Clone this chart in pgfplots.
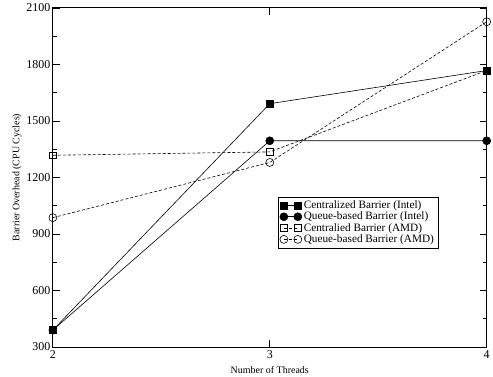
\documentclass[border=0pt]{standalone}
\usepackage{pgfplots}
\pgfplotsset{compat=1.18}
\usepackage{fontspec}
\setmainfont{Liberation Serif}
\begin{document}
\begin{tikzpicture}
\begin{axis}[
  scale only axis,
  width=435pt, height=340pt,
  xmin=2, xmax=4, ymin=300, ymax=2100,
  xtick={2,3,4},
  ytick={300,600,900,1200,1500,1800,2100},
  minor y tick num=1,
  tick align=inside,
  major tick length=7pt,
  minor tick length=4pt,
  axis line style={line width=1pt},
  every tick/.style={line width=0.8pt, black},
  /pgf/number format/assume math mode=true,
  /pgf/number format/1000 sep={},
  tick label style={font=\fontsize{12}{14}\selectfont},
  xticklabel style={yshift=0pt},
  yticklabel style={xshift=1pt},
  label style={font=\fontsize{10}{12}\selectfont},
  xlabel={Number of Threads},
  ylabel={Barrier Overhead (CPU Cycles)},
  xlabel style={yshift=-1pt},
  ylabel style={yshift=-2pt},
  legend style={at={(0.518,0.444)}, anchor=north west, draw=black, line width=0.6pt,
    font=\fontsize{11.3}{12.5}\selectfont, row sep=-2pt, inner sep=2pt},
  legend cell align=left,
  legend image code/.code={\draw[#1] plot coordinates {(0pt,0pt) (14pt,0pt)};},
]
\addplot[black, line width=0.6pt, mark=square*, mark size=3.5pt, mark options={solid}]
  coordinates {(2,390) (3,1592) (4,1768)};
\addlegendentry{Centralized Barrier (Intel)}
\addplot[black, line width=0.6pt, mark=*, mark size=4pt, mark options={solid}]
  coordinates {(2,390) (3,1395) (4,1395)};
\addlegendentry{Queue-based Barrier (Intel)}
\addplot[black, line width=0.6pt, dash pattern=on 3pt off 2pt, mark=square, mark size=3.5pt, mark options={solid}]
  coordinates {(2,1318) (3,1336) (4,1768)};
\addlegendentry{Centralied Barrier (AMD)}
\addplot[black, line width=0.6pt, dash pattern=on 3pt off 2pt, mark=o, mark size=4pt, mark options={solid}]
  coordinates {(2,987) (3,1280) (4,2027)};
\addlegendentry{Queue-based Barrier (AMD)}
\end{axis}
\path ([shift={(-53pt,-29pt)}]current axis.south west) rectangle ([shift={(5pt,8pt)}]current axis.north east);
\end{tikzpicture}
\end{document}
